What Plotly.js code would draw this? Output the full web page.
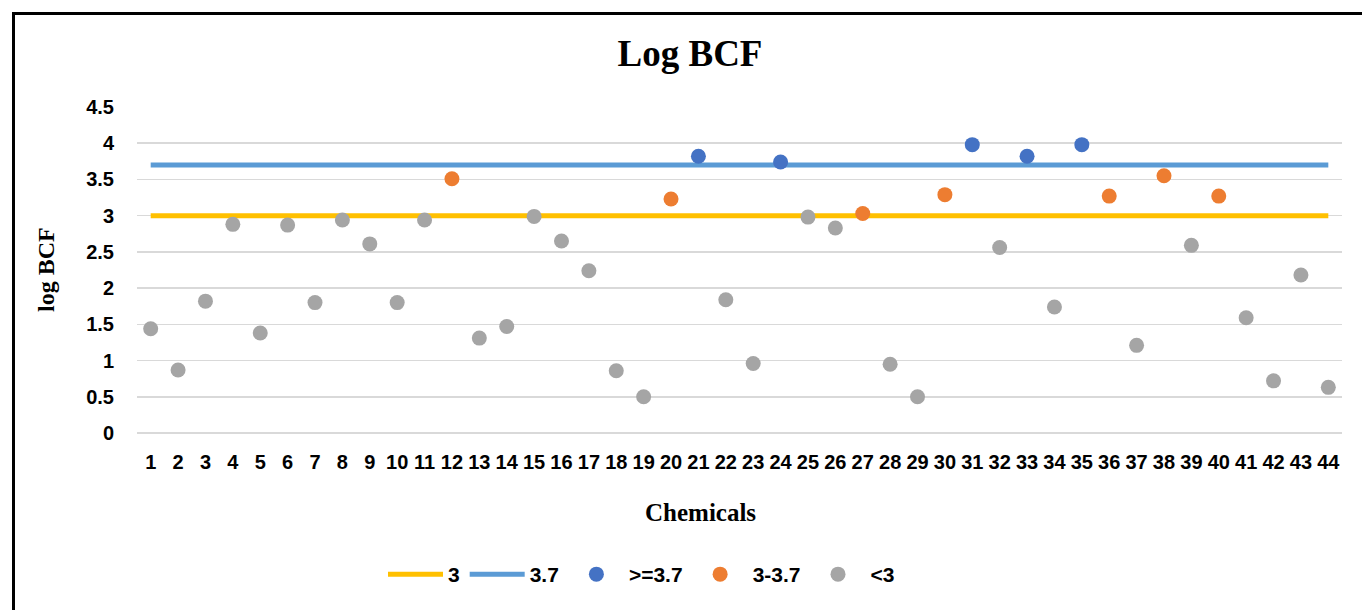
<!DOCTYPE html>
<html>
<head>
<meta charset="utf-8">
<script src="https://cdn.plot.ly/plotly-3.0.1.min.js"></script>
<style>
  html, body { margin: 0; padding: 0; background: #fff; overflow: hidden; }
  #chart { width: 1362px; height: 610px; }
  #frame { position: absolute; left: 12px; top: 12px; width: 1400px; height: 700px;
           border-left: 3px solid #000; border-top: 3px solid #000; pointer-events: none; }
</style>
</head>
<body>
<div id="chart"></div>
<div id="frame"></div>
<script>
// Chemicals 1..44
const chemicals = [1,2,3,4,5,6,7,8,9,10,11,12,13,14,15,16,17,18,19,20,21,22,23,24,25,26,27,28,29,30,31,32,33,34,35,36,37,38,39,40,41,42,43,44];
// log BCF values
const logBCF = [1.44,0.87,1.82,2.88,1.38,2.87,1.80,2.94,2.61,1.80,2.94,3.51,1.31,1.47,2.99,2.65,2.24,0.86,0.50,3.23,3.82,1.84,0.96,3.74,2.98,2.83,3.03,0.95,0.50,3.29,3.98,2.56,3.82,1.74,3.98,3.27,1.21,3.55,2.59,3.27,1.59,0.72,2.18,0.63];
// class of each chemical: "hi" = >=3.7, "mid" = 3-3.7, "lo" = <3
const group = ["lo","lo","lo","lo","lo","lo","lo","lo","lo","lo","lo","mid","lo","lo","lo","lo","lo","lo","lo","mid","hi","lo","lo","hi","lo","lo","mid","lo","lo","mid","hi","lo","hi","lo","hi","mid","lo","mid","lo","mid","lo","lo","lo","lo"];
// threshold lines
const threshold3 = [3, 3];
const threshold37 = [3.7, 3.7];
const lineX = [chemicals[0], chemicals[chemicals.length - 1]];
const yTicks = [0,0.5,1,1.5,2,2.5,3,3.5,4,4.5];

function pick(g) {
  const xs = [], ys = [];
  chemicals.forEach((c, i) => { if (group[i] === g) { xs.push(c); ys.push(logBCF[i]); } });
  return {xs, ys};
}
const hi = pick("hi"), mid = pick("mid"), lo = pick("lo");

const tickFont = {family: "Liberation Sans, Arial, sans-serif", size: 20, color: "#000", weight: 700};
const serifBold = {family: "Liberation Serif, Times New Roman, serif", color: "#000", weight: 700};

const traces = [
  {x: lineX, y: threshold3, type: "scatter", mode: "lines", name: "3",
   line: {color: "#FFC000", width: 5}},
  {x: lineX, y: threshold37, type: "scatter", mode: "lines", name: "3.7",
   line: {color: "#5B9BD5", width: 5}},
  {x: hi.xs, y: hi.ys, type: "scatter", mode: "markers", name: ">=3.7",
   marker: {color: "#4472C4", size: 15}},
  {x: mid.xs, y: mid.ys, type: "scatter", mode: "markers", name: "3-3.7",
   marker: {color: "#ED7D31", size: 15}},
  {x: lo.xs, y: lo.ys, type: "scatter", mode: "markers", name: "<3",
   marker: {color: "#A5A5A5", size: 15}}
];

const layout = {
  width: 1362, height: 610,
  paper_bgcolor: "#fff", plot_bgcolor: "#fff",
  margin: {l: 137, r: 20, t: 107, b: 177},
  showlegend: true,
  title: {text: "Log BCF", font: Object.assign({}, serifBold, {size: 37}),
          xref: "container", x: 690/1362, xanchor: "center",
          yref: "container", y: 1 - 53/610, yanchor: "middle"},
  xaxis: {range: [0.5, 44.5], tickmode: "array", tickvals: chemicals, ticktext: chemicals.map(String),
          showgrid: false, zeroline: false, showline: false, ticks: "", tickfont: tickFont,
          ticklabelstandoff: 15, fixedrange: true},
  yaxis: {range: [0, 4.5], tickmode: "array", tickvals: yTicks, ticktext: yTicks.map(String),
          showgrid: true, gridcolor: "#D9D9D9", gridwidth: 1.5, zeroline: true, zerolinecolor: "#D9D9D9",
          zerolinewidth: 1.5, showline: false, ticks: "", tickfont: tickFont, ticklabelstandoff: 22,
          fixedrange: true},
  legend: {orientation: "h", x: (383 - 137)/1205, xanchor: "left", y: -0.434, yanchor: "middle",
           font: {family: "Liberation Sans, Arial, sans-serif", size: 21, color: "#000", weight: 700},
           bgcolor: "rgba(0,0,0,0)", itemwidth: 55, traceorder: "normal"},
  annotations: [
    {text: "log BCF", textangle: -90, xref: "paper", yref: "paper", x: (46 - 137)/1205, y: 0.5,
     xanchor: "center", yanchor: "middle", showarrow: false, font: Object.assign({}, serifBold, {size: 24})},
    {text: "Chemicals", xref: "paper", yref: "paper", x: (700 - 137)/1205, y: (433.3 - 513)/326.6,
     xanchor: "center", yanchor: "middle", showarrow: false, font: Object.assign({}, serifBold, {size: 25})}
  ]
};

Plotly.newPlot("chart", traces, layout, {displayModeBar: false, staticPlot: true});
</script>
</body>
</html>
